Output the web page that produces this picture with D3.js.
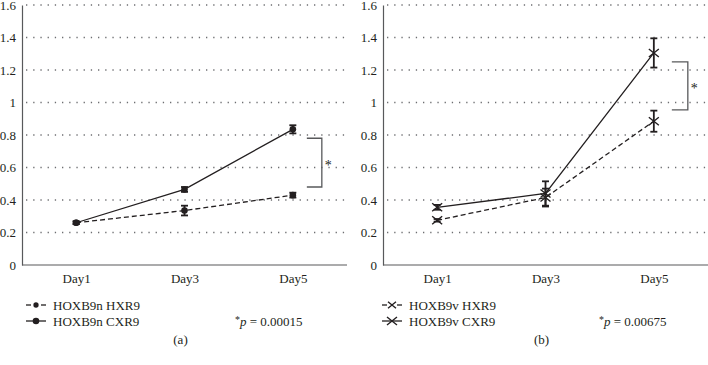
<!DOCTYPE html>
<html>
<head>
<meta charset="utf-8">
<script src="https://cdn.jsdelivr.net/npm/d3@7"></script>
<style>
    body { margin: 0; background: #fff; }
    svg text { font-family: "Times New Roman", "Liberation Serif", Times, serif; fill: #231f20; }
</style>
</head>
<body>
<svg id="chart" width="708" height="365"></svg>
<script>
const days = ["Day1", "Day3", "Day5"];
const yTicks = [0, 0.2, 0.4, 0.6, 0.8, 1, 1.2, 1.4, 1.6];
const gridTicks = [0.2, 0.4, 0.6, 0.8, 1, 1.2, 1.4, 1.6];

// panel (a)
const hoxb9nHxr9 = [0.26, 0.335, 0.43];
const hoxb9nHxr9Err = [0.008, 0.03, 0.015];
const hoxb9nCxr9 = [0.26, 0.465, 0.835];
const hoxb9nCxr9Err = [0.008, 0.015, 0.025];
const bracketA = [0.48, 0.78];

// panel (b)
const hoxb9vHxr9 = [0.275, 0.415, 0.885];
const hoxb9vHxr9Err = [0.008, 0.055, 0.065];
const hoxb9vCxr9 = [0.355, 0.44, 1.305];
const hoxb9vCxr9Err = [0.015, 0.075, 0.09];
const bracketB = [0.955, 1.25];

const svg = d3.select("#chart");
const ink = "#231f20";
const serif = "'Times New Roman', 'Liberation Serif', Times, serif";

const y = d3.scaleLinear().domain([0, 1.6]).range([265, 5]);

function drawPanel(opt) {
    const x = d3.scalePoint().domain(days).range([opt.left, opt.right]).padding(0.5);
    const g = svg.append("g");

    // dotted gridlines
    g.append("g")
        .selectAll("line")
        .data(gridTicks)
        .enter()
        .append("line")
        .attr("x1", opt.left + 4)
        .attr("x2", opt.right)
        .attr("y1", d => y(d))
        .attr("y2", d => y(d))
        .attr("stroke", "#6d6e71")
        .attr("stroke-width", 1.3)
        .attr("stroke-dasharray", "1.3,5.9");

    // y axis
    const yAxis = g.append("g")
        .attr("transform", `translate(${opt.left},0)`)
        .call(d3.axisLeft(y).tickValues(yTicks).tickSize(0).tickPadding(6).tickFormat(d3.format("~g")));
    yAxis.attr("font-family", serif);
    yAxis.select(".domain").attr("stroke", "#58595b").attr("stroke-width", 1.2);
    yAxis.selectAll("text").attr("font-size", 13).attr("fill", ink);

    // x axis
    const xAxis = g.append("g")
        .attr("transform", `translate(0,${y(0)})`)
        .call(d3.axisBottom(x).tickSize(0).tickPadding(9));
    xAxis.attr("font-family", serif);
    xAxis.select(".domain").attr("stroke", "#58595b").attr("stroke-width", 1.2)
        .attr("d", `M${opt.left},0H${opt.right}`);
    xAxis.selectAll("text").attr("font-size", 13).attr("fill", ink);

    const line = d3.line().x((d, i) => x(days[i])).y(d => y(d));

    opt.series.forEach(s => {
        g.append("path")
            .attr("d", line(s.values))
            .attr("fill", "none")
            .attr("stroke", ink)
            .attr("stroke-width", 1.3)
            .attr("stroke-dasharray", s.dashed ? "5,3" : null);

        // error bars
        const eb = g.append("g").attr("stroke", ink).attr("stroke-width", 1.8);
        s.values.forEach((v, i) => {
            const cx = x(days[i]),
                lo = y(v - s.err[i]),
                hi = y(v + s.err[i]);
            eb.append("line").attr("x1", cx).attr("x2", cx).attr("y1", lo).attr("y2", hi);
            eb.append("line").attr("x1", cx - 3.5).attr("x2", cx + 3.5).attr("y1", lo).attr("y2", lo);
            eb.append("line").attr("x1", cx - 3.5).attr("x2", cx + 3.5).attr("y1", hi).attr("y2", hi);
        });

        s.values.forEach((v, i) => {
            drawMarker(g, opt.marker, x(days[i]), y(v), 1);
        });
    });

    // significance bracket
    const bx1 = x("Day5") + opt.bracketOffset[0],
        bx2 = x("Day5") + opt.bracketOffset[1];
    g.append("path")
        .attr("d", `M${bx1},${y(opt.bracket[1])}H${bx2}V${y(opt.bracket[0])}H${bx1}`)
        .attr("fill", "none")
        .attr("stroke", "#58595b")
        .attr("stroke-width", 1.3);
    g.append("text")
        .attr("x", bx2 + 3)
        .attr("y", y((opt.bracket[0] + opt.bracket[1]) / 2) + 7)
        .attr("font-size", 14)
        .text("*");

    // legend
    opt.series.forEach((s, i) => {
        const ly = 305 + i * 16,
            lx = opt.left + opt.legendOffset;
        const segs = s.dashed ? [[lx, lx + 5], [lx + 15, lx + 20]] : [[lx, lx + 20]];
        segs.forEach(sg => {
            g.append("line")
                .attr("x1", sg[0]).attr("x2", sg[1])
                .attr("y1", ly).attr("y2", ly)
                .attr("stroke", ink)
                .attr("stroke-width", 1.3);
        });
        drawMarker(g, opt.marker, lx + 10, ly, s.dashed ? 0.8 : 1);
        g.append("text")
            .attr("x", lx + 27)
            .attr("y", ly + 4.5)
            .attr("font-size", 13)
            .text(s.name);
    });

    const pText = g.append("text")
        .attr("x", opt.pX)
        .attr("y", 325.5)
        .attr("font-size", 13);
    pText.append("tspan").attr("font-size", 10).attr("dy", -3).text("*");
    pText.append("tspan").attr("font-style", "italic").attr("dy", 3).text("p");
    pText.append("tspan").text(" = " + opt.pValue);

    g.append("text")
        .attr("x", (opt.left + opt.right) / 2 - 4)
        .attr("y", 344)
        .attr("text-anchor", "middle")
        .attr("font-size", 13)
        .text(opt.label);
}

function drawMarker(g, type, cx, cy, k) {
    if (type === "circle") {
        g.append("circle")
            .attr("cx", cx).attr("cy", cy).attr("r", 3.3 * k)
            .attr("fill", ink);
    } else {
        const w = 5 * k, h = 4 * k;
        g.append("path")
            .attr("d", `M${cx - w},${cy - h}L${cx + w},${cy + h}M${cx - w},${cy + h}L${cx + w},${cy - h}`)
            .attr("stroke", ink)
            .attr("stroke-width", 1.4)
            .attr("fill", "none");
    }
}

drawPanel({
    left: 22,
    right: 347,
    marker: "circle",
    series: [
        { name: "HOXB9n HXR9", values: hoxb9nHxr9, err: hoxb9nHxr9Err, dashed: true },
        { name: "HOXB9n CXR9", values: hoxb9nCxr9, err: hoxb9nCxr9Err, dashed: false }
    ],
    bracket: bracketA,
    bracketOffset: [14, 29],
    legendOffset: 4,
    pX: 235,
    pValue: "0.00015",
    label: "(a)"
});

drawPanel({
    left: 383,
    right: 708,
    marker: "cross",
    series: [
        { name: "HOXB9v HXR9", values: hoxb9vHxr9, err: hoxb9vHxr9Err, dashed: true },
        { name: "HOXB9v CXR9", values: hoxb9vCxr9, err: hoxb9vCxr9Err, dashed: false }
    ],
    bracket: bracketB,
    bracketOffset: [18, 34],
    legendOffset: -1,
    pX: 599,
    pValue: "0.00675",
    label: "(b)"
});
</script>
</body>
</html>
